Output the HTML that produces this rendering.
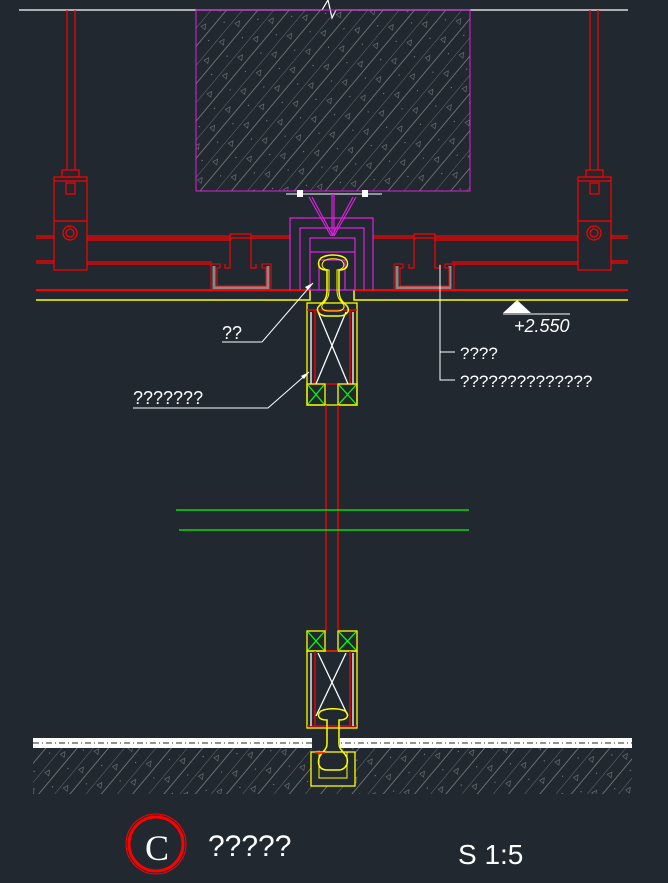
<!DOCTYPE html>
<html><head><meta charset="utf-8"><style>
html,body{margin:0;padding:0;background:#212830;}
svg{display:block;}
text{font-family:"Liberation Sans",sans-serif;fill:#fff;}
</style></head><body>
<svg width="668" height="883" viewBox="0 0 668 883" xmlns="http://www.w3.org/2000/svg">
<defs>
<pattern id="h" width="24" height="24" patternUnits="userSpaceOnUse" patternTransform="rotate(40)">
<line x1="0" y1="0" x2="0" y2="24" stroke="#8a8a8a" stroke-width="0.7"/>
<line x1="12" y1="0" x2="12" y2="24" stroke="#8a8a8a" stroke-width="0.7"/>
<path d="M5 6 l3 5 h-5 z" fill="none" stroke="#7a7a7a" stroke-width="0.6"/>
<circle cx="18" cy="17" r="0.6" fill="#888"/>
</pattern>
</defs>
<rect width="668" height="883" fill="#212830"/>
<polyline points="19,10 322,10 328,0 332,18 336,10 628,10" fill="none" stroke="#fff" stroke-width="1.2"/>
<rect x="196" y="10" width="274" height="181" fill="url(#h)" stroke="#e020e0" stroke-width="1"/>
<g stroke="#f00" stroke-width="1.2" fill="none">
<line x1="67" y1="10" x2="67" y2="170"/><line x1="75" y1="10" x2="75" y2="170"/>
<line x1="590" y1="10" x2="590" y2="170"/><line x1="598" y1="10" x2="598" y2="170"/>
<rect x="62" y="170" width="17" height="7"/><rect x="66" y="183" width="9" height="11"/>
<rect x="586" y="170" width="17" height="7"/><rect x="590" y="183" width="9" height="11"/>
<rect x="54" y="177" width="33" height="93"/><line x1="54" y1="181" x2="87" y2="181"/><line x1="54" y1="221" x2="87" y2="221"/>
<rect x="578" y="177" width="33" height="93"/><line x1="578" y1="181" x2="611" y2="181"/><line x1="578" y1="221" x2="611" y2="221"/>
<circle cx="70" cy="233" r="7"/><circle cx="70" cy="233" r="4"/>
<circle cx="594" cy="233" r="7"/><circle cx="594" cy="233" r="4"/>
<line x1="36" y1="236" x2="54" y2="236"/><line x1="36" y1="238" x2="54" y2="238"/>
<line x1="36" y1="261" x2="54" y2="261"/><line x1="36" y1="263" x2="54" y2="263"/>
<line x1="611" y1="236" x2="628" y2="236"/><line x1="611" y1="238" x2="628" y2="238"/>
<line x1="611" y1="261" x2="628" y2="261"/><line x1="611" y1="263" x2="628" y2="263"/>
<polyline points="87,236 230,236 230,234 251,234 251,236 290,236"/>
<polyline points="87,238 290,238"/><polyline points="87,240 230,240"/>
<polyline points="87,262 212,262"/><polyline points="87,264 212,264"/>
<polyline points="373,236 414,236 414,234 435,234 435,236 578,236"/>
<polyline points="373,238 578,238"/><polyline points="435,240 578,240"/>
<polyline points="452,262 578,262"/><polyline points="452,264 578,264"/>
<polyline points="230,236 230,268 225,268 225,264"/><polyline points="251,236 251,268 256,268 256,264"/>
<polyline points="414,236 414,268 409,268 409,264"/><polyline points="435,236 435,268 440,268 440,264"/>
</g>
<g fill="none" stroke="#888" stroke-width="3">
<polyline points="214,266 214,288 268,288 268,266"/><polyline points="397,266 397,288 450,288 450,266"/>
</g>
<g fill="none" stroke="#f00" stroke-width="1">
<polyline points="211,264 211,290 271,290 271,264 262,264 262,268 266,268 266,286 217,286 217,268 220,268 220,264 211,264"/>
<polyline points="394,264 394,290 454,290 454,264 445,264 445,268 449,268 449,286 400,286 400,268 403,268 403,264 394,264"/>
</g>
<line x1="36" y1="290" x2="310" y2="290" stroke="#f00" stroke-width="2"/>
<line x1="355" y1="290" x2="628" y2="290" stroke="#f00" stroke-width="2"/>
<polyline points="36,300 310,300 310,290" fill="none" stroke="#ff0" stroke-width="1.5"/>
<polyline points="628,300 354,300 354,290" fill="none" stroke="#ff0" stroke-width="1.5"/>
<line x1="286" y1="194" x2="382" y2="194" stroke="#fff" stroke-width="1"/>
<rect x="297" y="190" width="6" height="7" fill="#fff"/><rect x="362" y="190" width="6" height="7" fill="#fff"/>
<g fill="none" stroke="#e020e0" stroke-width="1.2">
<line x1="309" y1="197" x2="331" y2="236"/><line x1="312" y1="197" x2="333" y2="236"/>
<line x1="356" y1="197" x2="334" y2="236"/><line x1="353" y1="197" x2="332" y2="236"/>
<line x1="332" y1="194" x2="332" y2="236"/><line x1="334" y1="194" x2="334" y2="236"/>
<polyline points="290,290 290,218 373,218 373,290"/>
<polyline points="300,290 300,228 364,228 364,290"/>
<rect x="310" y="238" width="45" height="52"/><line x1="310" y1="252" x2="355" y2="252"/>
<polyline points="319,290 319,260 345,260 345,290"/>
</g>
<g fill="none" stroke-width="1.3">
<rect x="307" y="303" width="50" height="102" stroke="#ff0"/>
<line x1="315" y1="310" x2="315" y2="384" stroke="#f00"/><line x1="350" y1="310" x2="350" y2="384" stroke="#f00"/>
<line x1="307" y1="310" x2="357" y2="310" stroke="#f00"/><line x1="307" y1="384" x2="357" y2="384" stroke="#f00"/>
<line x1="311" y1="312" x2="311" y2="384" stroke="#fff"/><line x1="353" y1="312" x2="353" y2="384" stroke="#fff"/>
<line x1="318" y1="312" x2="348" y2="384" stroke="#fff"/><line x1="346" y1="312" x2="316" y2="384" stroke="#fff"/>
<rect x="307" y="384" width="18" height="21" stroke="#ff0"/><rect x="338" y="384" width="19" height="21" stroke="#ff0"/>
<path d="M308 385 l16 19 M324 385 l-16 19 M339 385 l17 19 M356 385 l-17 19" stroke="#0f0"/>
<path d="M327 290 v-20 c-10 0 -10 -8 -6 -12 c6 -4 18 -4 24 0 c4 4 4 12 -6 12 v20 c0 10 4 12 8 16 c4 6 -2 10 -8 10 h-12 c-8 0 -12 -6 -8 -10 c4 -4 8 -6 8 -16z" stroke="#ff0" stroke-width="1.5"/>
<path d="M329 290 v-20 c-8 -1 -8 -6 -5 -9 c4 -3 14 -3 18 0 c3 3 3 8 -5 9 v20 c0 8 3 10 6 14 c3 4 -1 7 -6 7 h-8 c-6 0 -9 -3 -6 -7 c3 -4 6 -6 6 -14z" stroke="#ff0" stroke-width="1"/>
</g>
<line x1="326" y1="405" x2="326" y2="631" stroke="#f00" stroke-width="1.3"/>
<line x1="338" y1="405" x2="338" y2="631" stroke="#f00" stroke-width="1.3"/>
<line x1="176" y1="510" x2="469" y2="510" stroke="#0f0" stroke-width="1.3"/>
<line x1="179" y1="530" x2="469" y2="530" stroke="#0f0" stroke-width="1.3"/>
<g fill="none" stroke-width="1.3">
<rect x="307" y="651" width="50" height="77" stroke="#ff0"/>
<rect x="307" y="631" width="18" height="20" stroke="#ff0"/><rect x="338" y="631" width="19" height="20" stroke="#ff0"/>
<path d="M308 632 l16 18 M324 632 l-16 18 M339 632 l17 18 M356 632 l-17 18" stroke="#0f0"/>
<line x1="315" y1="651" x2="315" y2="725" stroke="#f00"/><line x1="350" y1="651" x2="350" y2="725" stroke="#f00"/>
<line x1="307" y1="726" x2="357" y2="726" stroke="#f00"/><line x1="326" y1="651" x2="338" y2="651" stroke="#f00"/>
<line x1="311" y1="653" x2="311" y2="726" stroke="#fff"/><line x1="353" y1="653" x2="353" y2="726" stroke="#fff"/>
<line x1="318" y1="653" x2="348" y2="716" stroke="#fff"/><line x1="346" y1="653" x2="316" y2="716" stroke="#fff"/>
</g>
<rect x="33" y="748" width="599" height="46" fill="url(#h)"/>
<rect x="33" y="738" width="599" height="10" fill="#fff"/>
<line x1="33" y1="743" x2="632" y2="743" stroke="#212830" stroke-width="1" stroke-dasharray="6 3 1 3"/>
<rect x="312" y="736" width="28" height="14" fill="#212830"/>
<rect x="311" y="752" width="44" height="34" fill="#212830" stroke="#ff0" stroke-width="1.3"/>
<rect x="319" y="752" width="28" height="26" fill="none" stroke="#ff0" stroke-width="1"/>
<path d="M327 720 c-10 0 -10 -6 -6 -9 c6 -3 18 -3 24 0 c4 3 4 9 -6 9 v24 c0 6 6 8 8 14 c2 8 -4 12 -8 12 h-12 c-6 0 -10 -4 -8 -12 c2 -6 8 -8 8 -14z" fill="none" stroke="#ff0" stroke-width="1.5"/>
<line x1="315" y1="753" x2="325" y2="753" stroke="#f00" stroke-width="1.5"/>
<g stroke="#fff" stroke-width="1" fill="none">
<polyline points="313,283 262,342 222,342"/>
<polyline points="309,372 268,408 133,408"/>
<polyline points="440,265 440,380 455,380"/><line x1="440" y1="352" x2="455" y2="352"/>
<line x1="503" y1="314" x2="570" y2="314"/>
</g>
<path d="M313 283 l-8 4 l3 3z M309 372 l-8 4 l3 3z" fill="#fff"/>
<path d="M517 300 L531 313 L503 313z" fill="#fff"/>
<text x="222" y="339" font-size="18">??</text>
<text x="133" y="404" font-size="18">???????</text>
<text x="460" y="359" font-size="17">????</text>
<text x="460" y="387" font-size="17">??????????????</text>
<text x="514" y="332" font-size="18" font-style="italic">+2.550</text>
<circle cx="156" cy="844" r="30" fill="none" stroke="#f00" stroke-width="1"/>
<circle cx="156" cy="844" r="27" fill="none" stroke="#f00" stroke-width="3"/>
<text x="145" y="860" font-size="36" style="font-family:'Liberation Serif',serif">C</text>
<text x="208" y="856" font-size="30">?????</text>
<text x="458" y="864" font-size="28">S 1:5</text>
</svg>
</body></html>
